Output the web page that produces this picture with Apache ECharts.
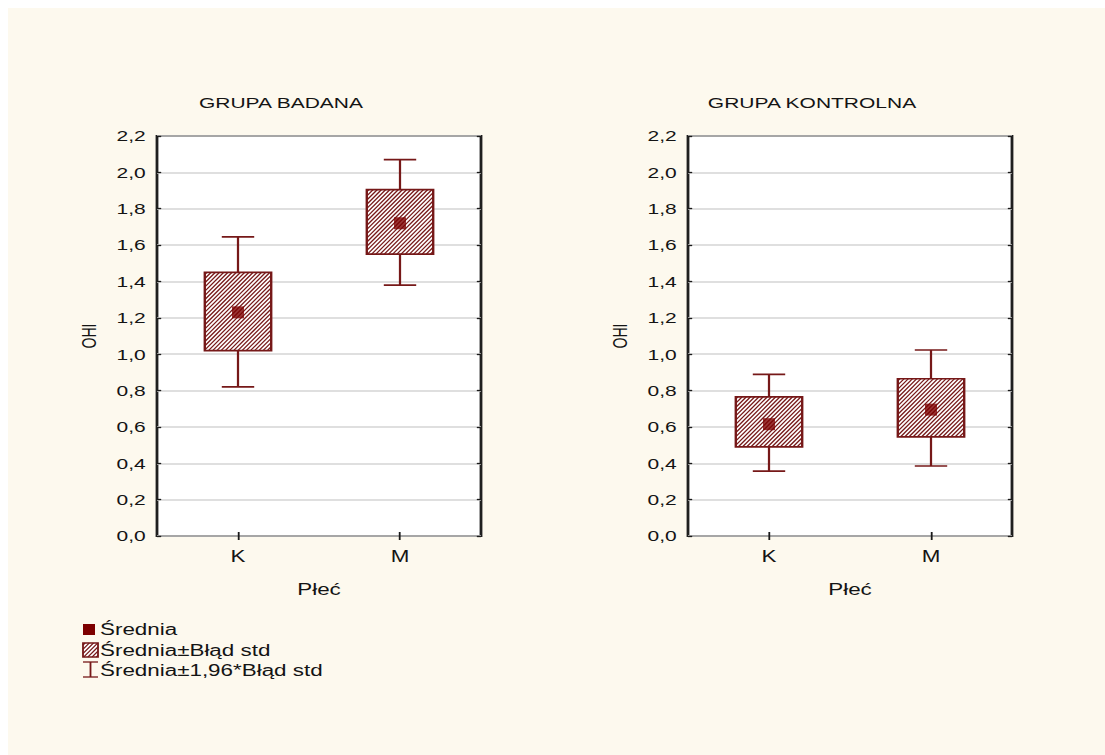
<!DOCTYPE html>
<html>
<head>
<meta charset="utf-8">
<script src="https://cdn.jsdelivr.net/npm/echarts@6/dist/echarts.min.js"></script>
<style>
  html, body { margin: 0; padding: 0; background: #ffffff; width: 1105px; height: 755px; overflow: hidden; }
  #bg { position: absolute; left: 8px; top: 8px; right: 0; bottom: 0; background: #fdf9ee; }
  #chart { position: absolute; left: 0; top: 0; height: 755px; transform-origin: 0 0; }
</style>
</head>
<body>
<div id="bg"></div>
<div id="chart"></div>
<script>
// ---------- data ----------
const categories = ['K', 'M'];
const yTickMin = 0, yTickMax = 2.2, yTickStep = 0.2;

const badanaMean    = [1.23, 1.72];
const badanaSeLow   = [1.02, 1.55];
const badanaSeHigh  = [1.45, 1.905];
const badanaCiLow   = [0.82, 1.38];
const badanaCiHigh  = [1.645, 2.07];

const kontrolnaMean   = [0.615, 0.695];
const kontrolnaSeLow  = [0.49, 0.545];
const kontrolnaSeHigh = [0.765, 0.865];
const kontrolnaCiLow  = [0.357, 0.385];
const kontrolnaCiHigh = [0.889, 1.023];

const panelTitles = ['GRUPA BADANA', 'GRUPA KONTROLNA'];
const xName = 'Płeć';
const yName = 'OHI';
const legendLabels = ['Średnia', 'Średnia±Błąd std', 'Średnia±1,96*Błąd std'];

// ---------- layout (horizontal stretch like the reference) ----------
const S = 1.4;
const W = 1105 / S;
const el = document.getElementById('chart');
el.style.width = W + 'px';
el.style.transform = 'scaleX(' + S + ')';

const FONT = 'Liberation Sans, Arial, sans-serif';
const RED = '#761818';
const MARK = '#7d0000';
const TXT = '#141414';

function hatch(x0, y0, x1, y1, step) {
  // lines that look like "/" at 45 degrees after the horizontal stretch
  const out = [];
  const cmin = S * x0 + y0, cmax = S * x1 + y1;
  for (let c = cmin + step / 2; c < cmax; c += step) {
    const xa = Math.max(x0, (c - y1) / S);
    const xb = Math.min(x1, (c - y0) / S);
    if (xb > xa) {
      out.push({
        type: 'line', silent: true,
        shape: { x1: xa, y1: c - S * xa, x2: xb, y2: c - S * xb },
        style: { stroke: RED, lineWidth: 1.05 }
      });
    }
  }
  return out;
}

function renderBox(params, api) {
  const cat = api.value(0);
  const seLo = api.value(2), seHi = api.value(3), ciLo = api.value(4), ciHi = api.value(5);
  const cx = api.coord([cat, seLo])[0];
  const band = api.size([1, 0])[0];
  const yOf = v => api.coord([cat, v])[1];
  const hw = band * 0.205, cw = band * 0.1;
  const yT = yOf(seHi), yB = yOf(seLo), yCH = yOf(ciHi), yCL = yOf(ciLo);
  const lineStyle = { stroke: RED, lineWidth: 1.6 };
  const children = [
    { type: 'line', shape: { x1: cx, y1: yT, x2: cx, y2: yCH }, style: lineStyle },
    { type: 'line', shape: { x1: cx, y1: yB, x2: cx, y2: yCL }, style: lineStyle },
    { type: 'line', shape: { x1: cx - cw, y1: yCH, x2: cx + cw, y2: yCH }, style: lineStyle },
    { type: 'line', shape: { x1: cx - cw, y1: yCL, x2: cx + cw, y2: yCL }, style: lineStyle },
    { type: 'rect', shape: { x: cx - hw, y: yT, width: 2 * hw, height: yB - yT }, style: { fill: '#ffffff', stroke: null } }
  ].concat(hatch(cx - hw, yT, cx + hw, yB, 4.2)).concat([
    { type: 'rect', shape: { x: cx - hw, y: yT, width: 2 * hw, height: yB - yT }, style: { fill: null, stroke: RED, lineWidth: 1.7 } }
  ]);
  return { type: 'group', children: children };
}

const gridLefts = [157 / S, 688 / S];
const gridWidth = 324 / S;
const grids = gridLefts.map(l => ({
  left: l, top: 136, width: gridWidth, height: 400,
  show: true, backgroundColor: '#ffffff', borderColor: '#1f1f1f', borderWidth: 2
}));

const xAxes = [], yAxes = [];
grids.forEach((g, i) => {
  xAxes.push({
    type: 'category', gridIndex: i, data: categories, position: 'bottom',
    axisLine: { show: false },
    axisTick: { show: true, inside: true, alignWithLabel: true, length: 4, lineStyle: { color: '#1a1a1a', width: 1.3 } },
    axisLabel: { color: TXT, fontSize: 16, fontFamily: FONT, margin: 12 },
    name: xName, nameLocation: 'middle', nameGap: 45,
    nameTextStyle: { color: TXT, fontSize: 16, fontFamily: FONT }
  });
  xAxes.push({
    type: 'category', gridIndex: i, data: categories, position: 'top',
    axisLine: { show: false },
    axisTick: { show: true, inside: true, alignWithLabel: true, length: 4, lineStyle: { color: '#1a1a1a', width: 1.3 } },
    axisLabel: { show: false }
  });
  yAxes.push({
    type: 'value', gridIndex: i, min: yTickMin, max: yTickMax, interval: yTickStep, position: 'left',
    axisLine: { show: false },
    axisTick: { show: true, inside: true, length: 3, lineStyle: { color: '#1a1a1a', width: 1.3 } },
    axisLabel: { color: TXT, fontSize: 15, fontFamily: FONT, margin: 8,
      formatter: v => v.toFixed(1).replace('.', ',') },
    splitLine: { show: true, lineStyle: { color: '#d4d4d4', width: 1.5 } },
    name: yName, nameLocation: 'middle', nameGap: 41, nameRotate: 90,
    nameTextStyle: { color: TXT, fontSize: 14, fontFamily: FONT }
  });
  yAxes.push({
    type: 'value', gridIndex: i, min: yTickMin, max: yTickMax, interval: yTickStep, position: 'right',
    axisLine: { show: false },
    axisTick: { show: true, inside: true, length: 3, lineStyle: { color: '#1a1a1a', width: 1.3 } },
    axisLabel: { show: false },
    splitLine: { show: false }
  });
});

function boxData(mean, lo, hi, cl, ch) {
  return categories.map((c, i) => [i, mean[i], lo[i], hi[i], cl[i], ch[i]]);
}

const groups = [
  [badanaMean, badanaSeLow, badanaSeHigh, badanaCiLow, badanaCiHigh],
  [kontrolnaMean, kontrolnaSeLow, kontrolnaSeHigh, kontrolnaCiLow, kontrolnaCiHigh]
];

const series = [];
groups.forEach((g, i) => {
  series.push({
    type: 'custom', name: legendLabels[1], xAxisIndex: 2 * i, yAxisIndex: 2 * i,
    renderItem: renderBox, data: boxData.apply(null, g),
    encode: { x: 0, y: [1, 2, 3, 4, 5] }, z: 2, silent: true
  });
  series.push({
    type: 'scatter', name: legendLabels[0], xAxisIndex: 2 * i, yAxisIndex: 2 * i,
    data: g[0], symbol: 'rect', symbolSize: [12 / S, 12],
    itemStyle: { color: MARK }, z: 5, silent: true
  });
});

// legend drawn with graphic elements (pre-stretch coordinates)
const lx0 = 83 / S, lx1 = 98 / S;
const legendGraphic = [
  { type: 'rect', shape: { x: 83 / S, y: 624, width: 12 / S, height: 11 }, style: { fill: MARK } },
  { type: 'rect', shape: { x: lx0, y: 643, width: lx1 - lx0, height: 14 }, style: { fill: '#ffffff' } }
].concat(hatch(lx0, 643, lx1, 657, 4.2)).concat([
  { type: 'rect', shape: { x: lx0, y: 643, width: lx1 - lx0, height: 14 }, style: { fill: null, stroke: RED, lineWidth: 1.3 } },
  { type: 'line', shape: { x1: lx0, y1: 662, x2: lx1, y2: 662 }, style: { stroke: RED, lineWidth: 1.3 } },
  { type: 'line', shape: { x1: lx0, y1: 677, x2: lx1, y2: 677 }, style: { stroke: RED, lineWidth: 1.3 } },
  { type: 'line', shape: { x1: (lx0 + lx1) / 2, y1: 662, x2: (lx0 + lx1) / 2, y2: 677 }, style: { stroke: RED, lineWidth: 1.3 } }
]);
[629, 650, 670].forEach((y, i) => {
  legendGraphic.push({
    type: 'text', x: 100 / S, y: y,
    style: { text: legendLabels[i], fill: TXT, font: '16px ' + FONT, textVerticalAlign: 'middle', textAlign: 'left' }
  });
});

const chart = echarts.init(el, null, { renderer: 'svg', width: W, height: 755 });
chart.setOption({
  backgroundColor: 'transparent',
  animation: false,
  title: [
    { text: panelTitles[0], left: 281 / S, top: 95, textAlign: 'center', padding: 0,
      textStyle: { color: TXT, fontSize: 15, fontWeight: 'normal', fontFamily: FONT } },
    { text: panelTitles[1], left: 812 / S, top: 95, textAlign: 'center', padding: 0,
      textStyle: { color: TXT, fontSize: 15, fontWeight: 'normal', fontFamily: FONT } }
  ],
  grid: grids,
  xAxis: xAxes,
  yAxis: yAxes,
  series: series,
  graphic: legendGraphic
});
</script>
</body>
</html>
